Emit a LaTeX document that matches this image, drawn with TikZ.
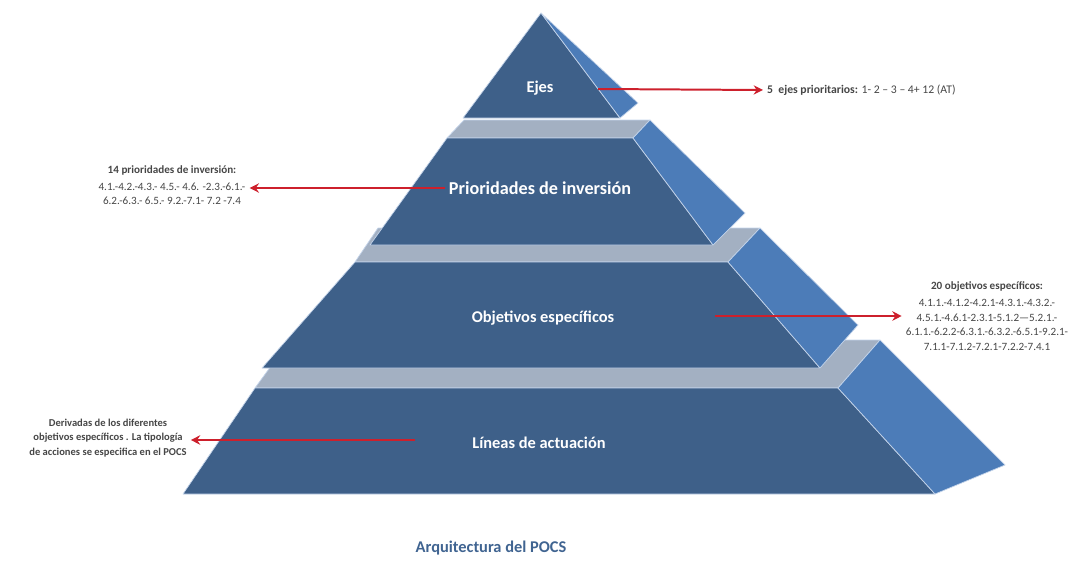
\documentclass[tikz,border=0pt]{standalone}
\usepackage{fontspec}
\setmainfont{Carlito}
\usetikzlibrary{arrows.meta}
\definecolor{frontblue}{RGB}{62,96,137}
\definecolor{sideblue}{RGB}{76,124,184}
\definecolor{topgrey}{RGB}{163,176,194}
\definecolor{edgeblue}{RGB}{196,212,234}
\definecolor{arrowred}{RGB}{205,32,44}
\definecolor{notegrey}{RGB}{70,70,70}
\definecolor{titleblue}{RGB}{64,100,145}

\begin{document}
\begin{tikzpicture}[x=0.03cm,y=-0.03cm,
    frontface/.style={fill=frontblue,draw=edgeblue,line width=0.6pt,line join=round},
    sideface/.style={fill=sideblue,draw=edgeblue,line width=0.6pt,line join=round},
    topface/.style={fill=topgrey,draw=edgeblue,line width=0.6pt,line join=round},
    tierlabel/.style={text=white,font=\bfseries\fontsize{14}{16}\selectfont},
    note/.style={text=notegrey,font=\fontsize{9.5}{12.5}\selectfont,align=center},
    pointer/.style={draw=arrowred,line width=1.7pt,-{Stealth[length=8pt,width=8pt]}}]
  \useasboundingbox (0,0) rectangle (1091,561);

  % bottom tier first, the upper ones lie in front
  \draw[topface] (290,340) -- (880,340) -- (838,388) -- (255,388) -- cycle;
  \draw[frontface] (255,388) -- (838,388) -- (935,494) -- (183,494) -- cycle;
  \draw[sideface] (838,388) -- (880,340) -- (1005,465) -- (935,494) -- cycle;

  \draw[topface] (378,228) -- (760,228) -- (728,262) -- (355,262) -- cycle;
  \draw[frontface] (355,262) -- (728,262) -- (820,368) -- (262,368) -- cycle;
  \draw[sideface] (728,262) -- (760,228) -- (858,325) -- (820,368) -- cycle;

  \draw[topface] (464,120) -- (650,120) -- (633,138) -- (447,138) -- cycle;
  \draw[frontface] (447,138) -- (633,138) -- (713,245) -- (370,245) -- cycle;
  \draw[sideface] (633,138) -- (650,120) -- (745,213) -- (713,245) -- cycle;

  \draw[frontface] (541,13) -- (620,118) -- (463,118) -- cycle;
  \draw[sideface] (541,13) -- (638,103) -- (620,118) -- cycle;

  \node[tierlabel] (ejes) at (540,88) {Ejes};
  \node[tierlabel,font=\bfseries\fontsize{15.5}{17}\selectfont] (prio) at (540,188) {Prioridades de inversión};
  \node[tierlabel] (obj) at (543,318) {Objetivos específicos};
  \node[tierlabel] (lin) at (539,443) {Líneas de actuación};

  \coordinate (ejesfrom) at (598,89);
  \coordinate (objfrom) at (715,316);
  \coordinate (linfrom) at (415,440);

  \node[note,anchor=west,font=\fontsize{10}{12}\selectfont] (ejesnote) at (763,90) {\textbf{5\ \ ejes prioritarios:} 1- 2 -- 3 -- 4+ 12 (AT)};
  \node[note] (prionote) at (172,185) {\textbf{14 prioridades de inversión:}\\[2pt]
    4.1.-4.2.-4.3.- 4.5.- 4.6. -2.3.-6.1.-\\
    6.2.-6.3.- 6.5.- 9.2.-7.1- 7.2 -7.4};
  \node[note] (objnote) at (987,316) {\textbf{20 objetivos específicos:}\\[2pt]
    4.1.1.-4.1.2-4.2.1-4.3.1.-4.3.2.-\\
    4.5.1.-4.6.1-2.3.1-5.1.2---5.2.1.-\\
    6.1.1.-6.2.2-6.3.1.-6.3.2.-6.5.1-9.2.1-\\
    7.1.1-7.1.2-7.2.1-7.2.2-7.4.1};
  \node[note,font=\bfseries\fontsize{9}{12.5}\selectfont] (linnote) at (108,438) {Derivadas de los diferentes\\
    objetivos específicos . La tipología\\
    de acciones se especifica en el POCS};

  \draw[pointer] (ejesfrom) -- (ejesnote.west);
  \draw[pointer] (prio.west) -- (prio.west -| prionote.east);
  \draw[pointer] (objfrom) -- (objfrom -| objnote.west);
  \draw[pointer] (linfrom) -- (linfrom -| linnote.east);

  \node[text=titleblue,font=\bfseries\fontsize{14}{16}\selectfont] (title) at (491,548) {Arquitectura del POCS};
\end{tikzpicture}
\end{document}
